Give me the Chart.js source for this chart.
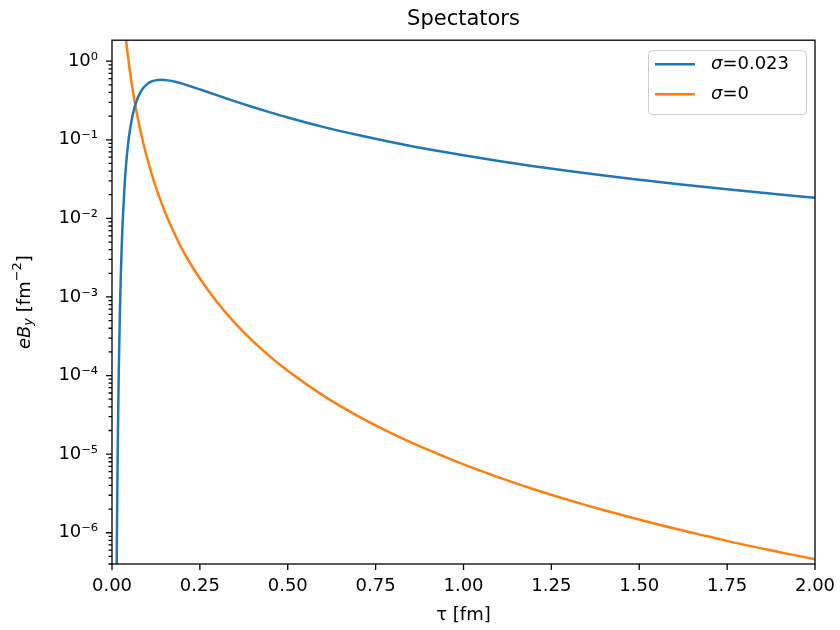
<!DOCTYPE html>
<html>
<head>
<meta charset="utf-8">
<script src="https://cdn.jsdelivr.net/npm/chart.js@4.4.1/dist/chart.umd.min.js"></script>
<style>
  html, body { margin: 0; padding: 0; background: #fff; }
  #wrap { width: 840px; height: 630px; }
</style>
</head>
<body>
<div id="wrap"><canvas id="chart" width="840" height="630"></canvas></div>
<script>
// Values (tau in fm, eB_y in fm^-2).
var tauSigma = [0.013, 0.0135, 0.014, 0.015, 0.016, 0.0175, 0.019, 0.02, 0.0225, 0.025, 0.0275, 0.03, 0.035, 0.04, 0.045, 0.05,
	0.06, 0.07, 0.08, 0.09, 0.1, 0.11, 0.12, 0.14, 0.16, 0.18, 0.2, 0.22, 0.25, 0.3, 0.35, 0.4, 0.45, 0.5,
	0.6, 0.7, 0.8, 0.9, 1.0, 1.1, 1.2, 1.3, 1.4, 1.5, 1.6, 1.75, 1.9, 2.0];
var fieldSigma = [2.2e-7, 4.5e-7, 8.8e-7, 2.9e-6, 8.2e-6, 3.1e-5, 9.3e-5, 1.75e-4, 6.5e-4, 1.84e-3, 4.2e-3, 8.3e-3, 0.023, 0.048, 0.0823, 0.124,
	0.219, 0.314, 0.396, 0.462, 0.511, 0.545, 0.566, 0.58, 0.57, 0.547, 0.518, 0.486, 0.438, 0.367, 0.308, 0.261, 0.223, 0.192,
	0.146, 0.115, 0.0925, 0.076, 0.0634, 0.0538, 0.0462, 0.0401, 0.0351, 0.031, 0.0275, 0.0234, 0.0201, 0.0183];

var tauVacuum = [0.035, 0.04, 0.05, 0.06, 0.07, 0.08, 0.09, 0.1, 0.12, 0.14, 0.16, 0.18, 0.2, 0.25, 0.3, 0.35, 0.4, 0.45, 0.5,
	0.6, 0.7, 0.8, 0.9, 1.0, 1.1, 1.2, 1.3, 1.4, 1.5, 1.6, 1.7, 1.8, 1.9, 2.0];
var fieldVacuum = [3.04, 1.85, 0.801, 0.403, 0.226, 0.136, 0.087, 0.0583, 0.029, 0.0161, 9.6e-3, 6.1e-3, 4.0e-3, 1.72e-3, 8.5e-4, 4.65e-4, 2.76e-4, 1.74e-4, 1.15e-4,
	5.6e-5, 3.05e-5, 1.8e-5, 1.13e-5, 7.4e-6, 5.07e-6, 3.58e-6, 2.6e-6, 1.93e-6, 1.47e-6, 1.13e-6, 8.9e-7, 7.0e-7, 5.66e-7, 4.6e-7];

var seriesLabels = [ 'σ=0.023', 'σ=0' ];
var xRange = [ 0, 2 ];
var yRange = [ 4.0e-7, 1.85 ];

var FONT = '"DejaVu Sans", sans-serif';
var SUP = { '-': '⁻', '0': '⁰', '1': '¹', '2': '²', '3': '³', '4': '⁴', '5': '⁵', '6': '⁶', '7': '⁷', '8': '⁸', '9': '⁹' };

function toPoints( xs, ys ) {
	return xs.map( function ( x, i ) { return { x: x, y: ys[ i ] }; } );
}

function mantissa( v ) {
	var e = Math.floor( Math.log10( v ) + 1e-9 );
	return v / Math.pow( 10, e );
}

// Frame and matplotlib-style tick marks.
var axesFrame = {
	id: 'axesFrame',
	afterDatasetsDraw: function ( chart ) {
		var ctx = chart.ctx, a = chart.chartArea;
		var xs = chart.scales.x, ys = chart.scales.y;
		ctx.save();
		ctx.strokeStyle = '#000';
		ctx.lineWidth = 1.3;
		ctx.beginPath();
		xs.ticks.forEach( function ( t ) {
			var px = xs.getPixelForValue( t.value );
			ctx.moveTo( px, a.bottom );
			ctx.lineTo( px, a.bottom + 6 );
		} );
		ys.ticks.forEach( function ( t ) {
			var m = mantissa( t.value );
			if ( Math.abs( m - Math.round( m ) ) > 1e-6 ) {
				return;
			}
			var major = Math.abs( m - 1 ) < 1e-6 || Math.abs( m - 10 ) < 1e-6;
			var py = ys.getPixelForValue( t.value );
			ctx.moveTo( a.left, py );
			ctx.lineTo( a.left - ( major ? 6 : 3.5 ), py );
		} );
		ctx.stroke();
		ctx.strokeRect( a.left, a.top, a.right - a.left, a.bottom - a.top );
		ctx.restore();
	}
};

// Legend box in the upper right corner of the axes.
var axesLegend = {
	id: 'axesLegend',
	afterDraw: function ( chart ) {
		var ctx = chart.ctx, a = chart.chartArea;
		var w = 158, h = 64;
		var x0 = a.right - 9 - w, y0 = a.top + 10;
		ctx.save();
		ctx.fillStyle = 'rgba(255,255,255,0.8)';
		ctx.strokeStyle = '#cccccc';
		ctx.lineWidth = 1;
		ctx.beginPath();
		ctx.roundRect( x0 + 0.5, y0 + 0.5, w, h, 4 );
		ctx.fill();
		ctx.stroke();
		chart.data.datasets.forEach( function ( ds, i ) {
			var y = y0 + 14 + i * 30;
			ctx.strokeStyle = ds.borderColor;
			ctx.lineWidth = ds.borderWidth;
			ctx.beginPath();
			ctx.moveTo( x0 + 7, y );
			ctx.lineTo( x0 + 47, y );
			ctx.stroke();
			ctx.fillStyle = '#000';
			ctx.textBaseline = 'middle';
			var tx = x0 + 63;
			var head = ds.label.charAt( 0 );
			ctx.font = 'italic 18px ' + FONT;
			ctx.fillText( head, tx, y );
			tx += ctx.measureText( head ).width;
			ctx.font = '18px ' + FONT;
			ctx.fillText( ds.label.slice( 1 ), tx, y );
		} );
		ctx.restore();
	}
};

// Y axis title with subscript and superscript.
var yTitle = {
	id: 'yTitle',
	afterDraw: function ( chart ) {
		var ctx = chart.ctx, a = chart.chartArea;
		var parts = [
			{ t: 'eB', f: 'italic 18px ', dy: 0 },
			{ t: 'y', f: 'italic 13px ', dy: 4 },
			{ t: ' [fm', f: '18px ', dy: 0 },
			{ t: '−2', f: '13px ', dy: -7 },
			{ t: ']', f: '18px ', dy: 0 }
		];
		ctx.save();
		var total = 0;
		parts.forEach( function ( p ) {
			ctx.font = p.f + FONT;
			p.w = ctx.measureText( p.t ).width;
			total += p.w;
		} );
		ctx.translate( 25, ( a.top + a.bottom ) / 2 );
		ctx.rotate( -Math.PI / 2 );
		ctx.fillStyle = '#000';
		ctx.textBaseline = 'middle';
		var x = -total / 2;
		parts.forEach( function ( p ) {
			ctx.font = p.f + FONT;
			ctx.fillText( p.t, x, p.dy );
			x += p.w;
		} );
		ctx.restore();
	}
};

Chart.defaults.font.family = FONT;
Chart.defaults.font.size = 18;
Chart.defaults.color = '#000';

new Chart( document.getElementById( 'chart' ).getContext( '2d' ), {
	type: 'line',
	data: {
		datasets: [ {
			label: seriesLabels[ 0 ],
			data: toPoints( tauSigma, fieldSigma ),
			borderColor: '#1f77b4',
			borderWidth: 2.5,
			pointRadius: 0,
			cubicInterpolationMode: 'monotone',
			clip: 0
		}, {
			label: seriesLabels[ 1 ],
			data: toPoints( tauVacuum, fieldVacuum ),
			borderColor: '#ff7f0e',
			borderWidth: 2.5,
			pointRadius: 0,
			cubicInterpolationMode: 'monotone',
			clip: 0
		} ]
	},
	options: {
		responsive: false,
		animation: false,
		layout: { padding: { left: 0, right: 25, top: 0, bottom: 0 } },
		plugins: {
			legend: { display: false },
			tooltip: { enabled: false },
			title: {
				display: true,
				fullSize: false,
				text: 'Spectators',
				font: { size: 21, weight: 'normal' },
				padding: { top: 7, bottom: 8 }
			}
		},
		scales: {
			x: {
				type: 'linear',
				min: xRange[ 0 ],
				max: xRange[ 1 ],
				grid: { display: false, drawTicks: false },
				border: { display: false },
				ticks: {
					stepSize: 0.25,
					padding: 12,
					maxRotation: 0,
					autoSkip: false,
					callback: function ( v ) { return Number( v ).toFixed( 2 ); }
				},
				title: { display: true, text: 'τ [fm]', padding: { top: 0, bottom: 4 } },
				afterFit: function ( scale ) {
					scale.height = 66;
					scale.paddingLeft = 0;
					scale.paddingRight = 0;
				}
			},
			y: {
				type: 'logarithmic',
				min: yRange[ 0 ],
				max: yRange[ 1 ],
				grid: { display: false, drawTicks: false },
				border: { display: false },
				ticks: {
					padding: 14,
					autoSkip: false,
					callback: function ( v ) {
						var e = Math.log10( v );
						var r = Math.round( e );
						if ( Math.abs( e - r ) > 1e-6 ) {
							return '';
						}
						return '10' + String( r ).split( '' ).map( function ( c ) { return SUP[ c ]; } ).join( '' );
					}
				},
				afterFit: function ( scale ) { scale.width = 112; }
			}
		}
	},
	plugins: [ axesFrame, axesLegend, yTitle ]
} );
</script>
</body>
</html>
